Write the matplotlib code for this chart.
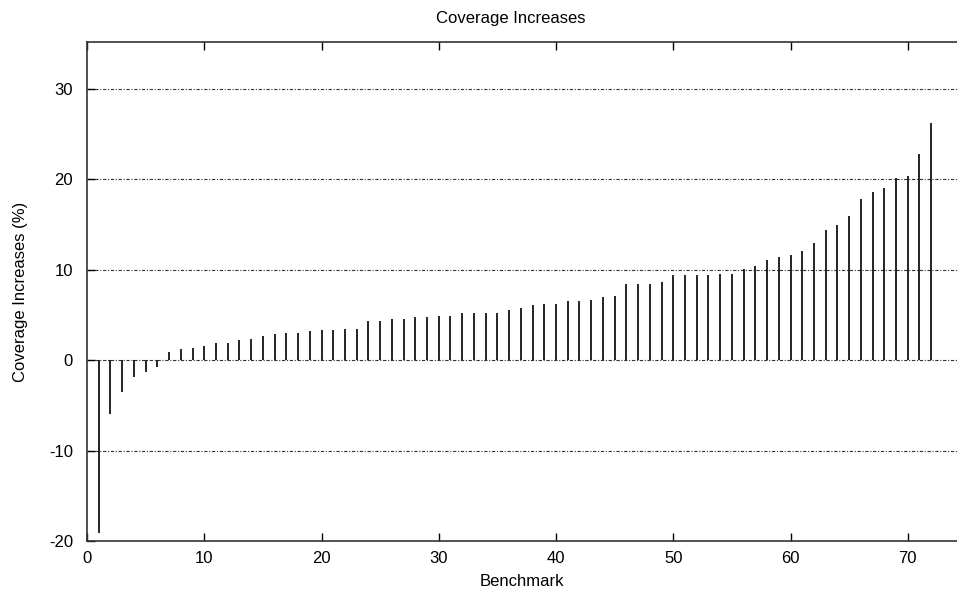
import numpy as np
import matplotlib
matplotlib.use("Agg")
import matplotlib.pyplot as plt

# coverage increase per benchmark (%), sorted
benchmarks = np.arange(1, 73)
increases = [
    -19.1, -5.9, -3.5, -1.85, -1.25, -0.8, 0.95, 1.25, 1.4, 1.6,
    1.9, 1.9, 2.2, 2.35, 2.65, 2.9, 3.05, 3.05, 3.2, 3.3,
    3.3, 3.45, 3.45, 4.3, 4.3, 4.6, 4.6, 4.75, 4.75, 4.9,
    4.9, 5.2, 5.2, 5.2, 5.2, 5.6, 5.8, 6.1, 6.2, 6.2,
    6.5, 6.5, 6.7, 7.0, 7.1, 8.4, 8.4, 8.4, 8.7, 9.4,
    9.4, 9.4, 9.4, 9.5, 9.5, 10.1, 10.4, 11.1, 11.4, 11.6,
    12.1, 13.0, 14.4, 15.0, 16.0, 17.8, 18.6, 19.0, 20.2, 20.4,
    22.8, 26.2,
]
yticks = [-20, -10, 0, 10, 20, 30]
xticks = [0, 10, 20, 30, 40, 50, 60, 70]

plt.rcParams['font.family'] = ['Liberation Sans', 'DejaVu Sans']
plt.rcParams['font.size'] = 12
plt.rcParams['axes.unicode_minus'] = False

fig = plt.figure(figsize=(9.57, 5.92), dpi=100)
ax = fig.add_axes([87 / 957, 51 / 592, 1 - 87 / 957, 499 / 592])

for y in yticks[1:]:
    ax.axhline(y, color='#333333', linewidth=0.8, linestyle=(0, (3, 1.5, 1, 1.5)), zorder=1)

ax.vlines(benchmarks, 0, increases, color='black', linewidth=1.2, zorder=2)

ax.set_xlim(0, 74.2)
ax.set_ylim(-20, 35.2)
ax.set_xticks(xticks)
ax.set_yticks(yticks)
ax.tick_params(axis='both', direction='in', length=6, width=1, top=True, right=False)
ax.tick_params(axis='y', pad=10)
ax.tick_params(axis='x', pad=7)
for s in ['left', 'bottom', 'top']:
    ax.spines[s].set_linewidth(1.2)
    ax.spines[s].set_color('#333333')
ax.spines['right'].set_visible(False)

ax.set_xlabel('Benchmark', labelpad=6)
ax.set_ylabel('Coverage Increases (%)', labelpad=15)
fig.text(511 / 957, 1 - 18 / 592, 'Coverage Increases', ha='center', va='center')

fig.savefig('out.png', dpi=100)
